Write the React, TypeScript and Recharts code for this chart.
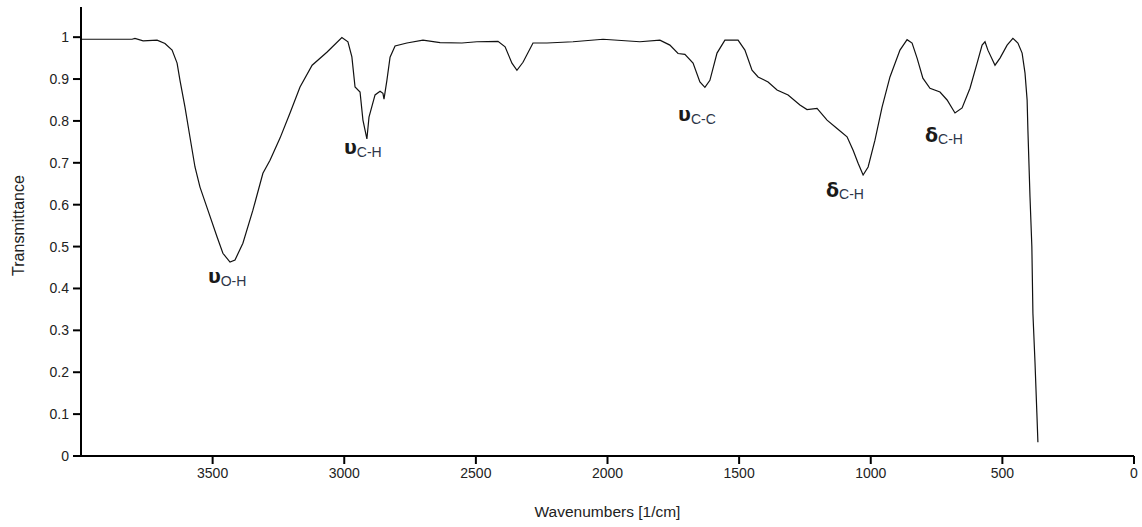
import * as React from 'react';
import { LineChart, Line, XAxis, YAxis, Label, ReferenceDot } from 'recharts';

// FTIR spectrum (wavenumber in 1/cm, transmittance 0..1)
const wavenumbers = [
    4000, 3806, 3795, 3764, 3711, 3681, 3654, 3635, 3624, 3605, 3586, 3567, 3548, 3518, 3483, 3461, 3434, 3415,
    3385, 3347, 3309, 3282, 3244, 3206, 3168, 3122, 3066, 3009, 2986, 2971, 2959, 2940, 2929, 2914, 2906, 2883,
    2864, 2853, 2849, 2838, 2826, 2807, 2762, 2701, 2636, 2553, 2496, 2416, 2389, 2363, 2344, 2321, 2283, 2230,
    2131, 2017, 1877, 1801, 1763, 1732, 1706, 1675, 1649, 1630, 1611, 1584, 1554, 1504, 1478, 1451, 1428, 1390,
    1356, 1314, 1269, 1242, 1204, 1166, 1128, 1090, 1067, 1048, 1029, 1010, 984, 957, 927, 889, 862, 843, 824,
    802, 775, 737, 710, 680, 653, 623, 596, 577, 566, 555, 528, 509, 482, 460, 441, 425, 414, 406, 403, 395, 388,
    384, 376, 369, 365,
];
const transmittance = [
    0.995, 0.995, 0.997, 0.991, 0.993, 0.985, 0.969, 0.938, 0.897, 0.833, 0.761, 0.69, 0.642, 0.587, 0.523, 0.484,
    0.463, 0.468, 0.508, 0.587, 0.675, 0.706, 0.759, 0.819, 0.881, 0.933, 0.964, 0.999, 0.989, 0.953, 0.881, 0.869,
    0.802, 0.757, 0.809, 0.862, 0.871, 0.866, 0.852, 0.897, 0.952, 0.979, 0.986, 0.993, 0.987, 0.986, 0.989, 0.99,
    0.977, 0.938, 0.921, 0.94, 0.986, 0.986, 0.989, 0.995, 0.989, 0.993, 0.981, 0.961, 0.959, 0.938, 0.893, 0.88,
    0.897, 0.962, 0.993, 0.993, 0.969, 0.921, 0.905, 0.893, 0.874, 0.862, 0.838, 0.827, 0.83, 0.802, 0.782, 0.762,
    0.73, 0.699, 0.671, 0.69, 0.754, 0.833, 0.905, 0.969, 0.994, 0.986, 0.95, 0.902, 0.878, 0.869, 0.85, 0.819,
    0.831, 0.878, 0.938, 0.981, 0.989, 0.969, 0.933, 0.95, 0.981, 0.997, 0.986, 0.962, 0.914, 0.85, 0.778, 0.618,
    0.499, 0.341, 0.222, 0.103, 0.033,
];

const xTicks = [3500, 3000, 2500, 2000, 1500, 1000, 500, 0];
const yTicks = [0, 0.1, 0.2, 0.3, 0.4, 0.5, 0.6, 0.7, 0.8, 0.9, 1];

// band labels: left edge / baseline in data units
const bandSymbols = ['υ', 'υ', 'υ', 'δ', 'δ'];
const bandSubs = ['O-H', 'C-H', 'C-C', 'C-H', 'C-H'];
const bandWn = [3518, 3001, 1732, 1170, 794];
const bandT = [0.413, 0.721, 0.8, 0.618, 0.749];

const data = wavenumbers.map((wn, i) => ({ wn, t: transmittance[i] }));

const font = '"Liberation Sans", Arial, sans-serif';
const axisStroke = { stroke: '#000', strokeWidth: 2 };
const tickStyle = { fill: '#222', fontSize: 14, fontFamily: font };

function BandLabel({ viewBox, symbol, sub }: any) {
    const x = viewBox.x + 1;
    const y = viewBox.y + 1;
    const isDelta = symbol === 'δ';
    return (
        <text x={x} y={y} fontFamily={font}>
            <tspan fontFamily='"DejaVu Sans", sans-serif' fontWeight="bold" fontSize={19} fill="#1a1a1a">
                {symbol}
            </tspan>
            <tspan fontSize={14} fill="#2d3648" dy={isDelta ? 2 : 3}>
                {sub}
            </tspan>
        </text>
    );
}

export default function App() {
    return (
        <div style={{ position: 'absolute', left: 0, top: 0 }}>
            <LineChart width={1142} height={527} data={data} margin={{ top: 7, right: 8, left: 0, bottom: 0 }}>
                <XAxis
                    type="number"
                    dataKey="wn"
                    domain={[0, 4000]}
                    reversed
                    ticks={xTicks}
                    interval={0}
                    height={71}
                    tickSize={8}
                    tickMargin={4}
                    axisLine={axisStroke}
                    tickLine={axisStroke}
                    tick={tickStyle}
                >
                    <Label
                        value="Wavenumbers [1/cm]"
                        position="insideBottom"
                        offset={10}
                        style={{ fill: '#222', fontSize: 15.5, fontFamily: font }}
                    />
                </XAxis>
                <YAxis
                    type="number"
                    domain={[0, 1.072]}
                    ticks={yTicks}
                    interval={0}
                    width={81}
                    tickSize={8}
                    tickMargin={4}
                    axisLine={axisStroke}
                    tickLine={axisStroke}
                    tick={tickStyle}
                    tickFormatter={(v: number) => String(Math.round(v * 10) / 10)}
                >
                    <Label
                        content={({ viewBox }: any) => {
                            const cx = viewBox.x + 18;
                            const cy = viewBox.y + viewBox.height / 2 - 6;
                            return (
                                <text
                                    x={cx}
                                    y={cy}
                                    transform={`rotate(-90, ${cx}, ${cy})`}
                                    textAnchor="middle"
                                    dominantBaseline="central"
                                    fill="#222"
                                    fontSize={16}
                                    fontFamily={font}
                                >
                                    Transmittance
                                </text>
                            );
                        }}
                    />
                </YAxis>
                <Line
                    type="linear"
                    dataKey="t"
                    stroke="#111"
                    strokeWidth={1.2}
                    dot={false}
                    activeDot={false}
                    isAnimationActive={false}
                />
                {bandWn.map((wn, i) => (
                    <ReferenceDot
                        key={i}
                        x={wn}
                        y={bandT[i]}
                        r={1}
                        fill="none"
                        stroke="none"
                        label={<BandLabel symbol={bandSymbols[i]} sub={bandSubs[i]} />}
                    />
                ))}
            </LineChart>
        </div>
    );
}
